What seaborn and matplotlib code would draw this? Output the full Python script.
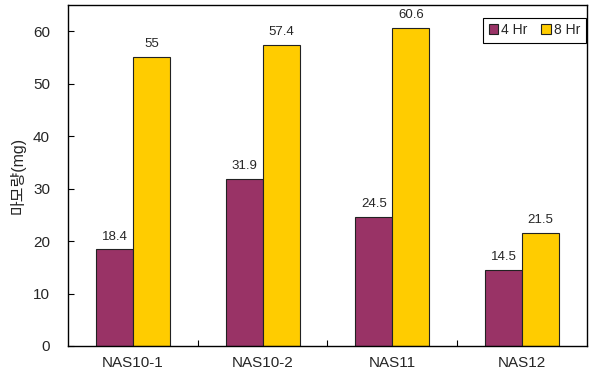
import matplotlib
matplotlib.use("Agg")
import matplotlib.pyplot as plt
import seaborn as sns
import pandas as pd
from matplotlib.patches import Patch

samples = ["NAS10-1", "NAS10-2", "NAS11", "NAS12"]
wear_4hr = [18.4, 31.9, 24.5, 14.5]
wear_8hr = [55, 57.4, 60.6, 21.5]
series = ["4 Hr", "8 Hr"]
colors = ["#993366", "#FFCC00"]

df = pd.DataFrame({
    "sample": samples * 2,
    "time": [series[0]] * len(samples) + [series[1]] * len(samples),
    "wear": wear_4hr + wear_8hr,
})

sns.set_style("white", {"xtick.bottom": True, "ytick.left": True})
plt.rcParams["font.family"] = ["Liberation Sans", "Noto Sans CJK KR", "DejaVu Sans"]

fig = plt.figure(figsize=(5.89, 3.80), dpi=100)
ax = fig.add_axes([0.1155, 0.0895, 0.881, 0.8975])

sns.barplot(data=df, x="sample", y="wear", hue="time", order=samples,
            hue_order=series, palette=colors, width=0.57, saturation=1,
            edgecolor="#222222", linewidth=0.8, ax=ax, legend=False)

for container in ax.containers:
    ax.bar_label(container, labels=[f"{v:g}" for v in container.datavalues],
                 padding=5, fontsize=9.5)

ax.set_ylim(0, 65)
ax.set_xlim(-0.5, len(samples) - 0.5)
ax.set_yticks(range(0, 61, 10))
ax.tick_params(axis="y", left=True, direction="in", length=4, width=0.8,
               labelsize=11, pad=13, color="black")

# group separators as inward ticks, labels centered under each group
ax.set_xticks([i + 0.5 for i in range(len(samples) - 1)])
ax.set_xticklabels([])
ax.tick_params(axis="x", which="major", bottom=True, direction="in", length=4,
               width=0.8, color="black")
ax.set_xticks(range(len(samples)), minor=True)
ax.set_xticklabels(samples, minor=True)
ax.tick_params(axis="x", which="minor", bottom=True, length=0, labelsize=11, pad=7)

ax.set_xlabel("")
ax.set_ylabel("마모량(mg)", fontsize=11.5, labelpad=5)

for sp in ax.spines.values():
    sp.set_visible(True)
    sp.set_color("black")
    sp.set_linewidth(1.0)

handles = [Patch(facecolor=c, edgecolor="#222222", linewidth=0.8) for c in colors]
leg = ax.legend(handles, series, ncol=2, loc="upper right",
                bbox_to_anchor=(0.998, 0.963), fontsize=10, frameon=True,
                fancybox=False, framealpha=1, edgecolor="black",
                handlelength=0.7, handleheight=0.7, handletextpad=0.2,
                columnspacing=1.0, borderpad=0.4, borderaxespad=0)
leg.get_frame().set_linewidth(0.8)

fig.savefig("out.png", dpi=100)
